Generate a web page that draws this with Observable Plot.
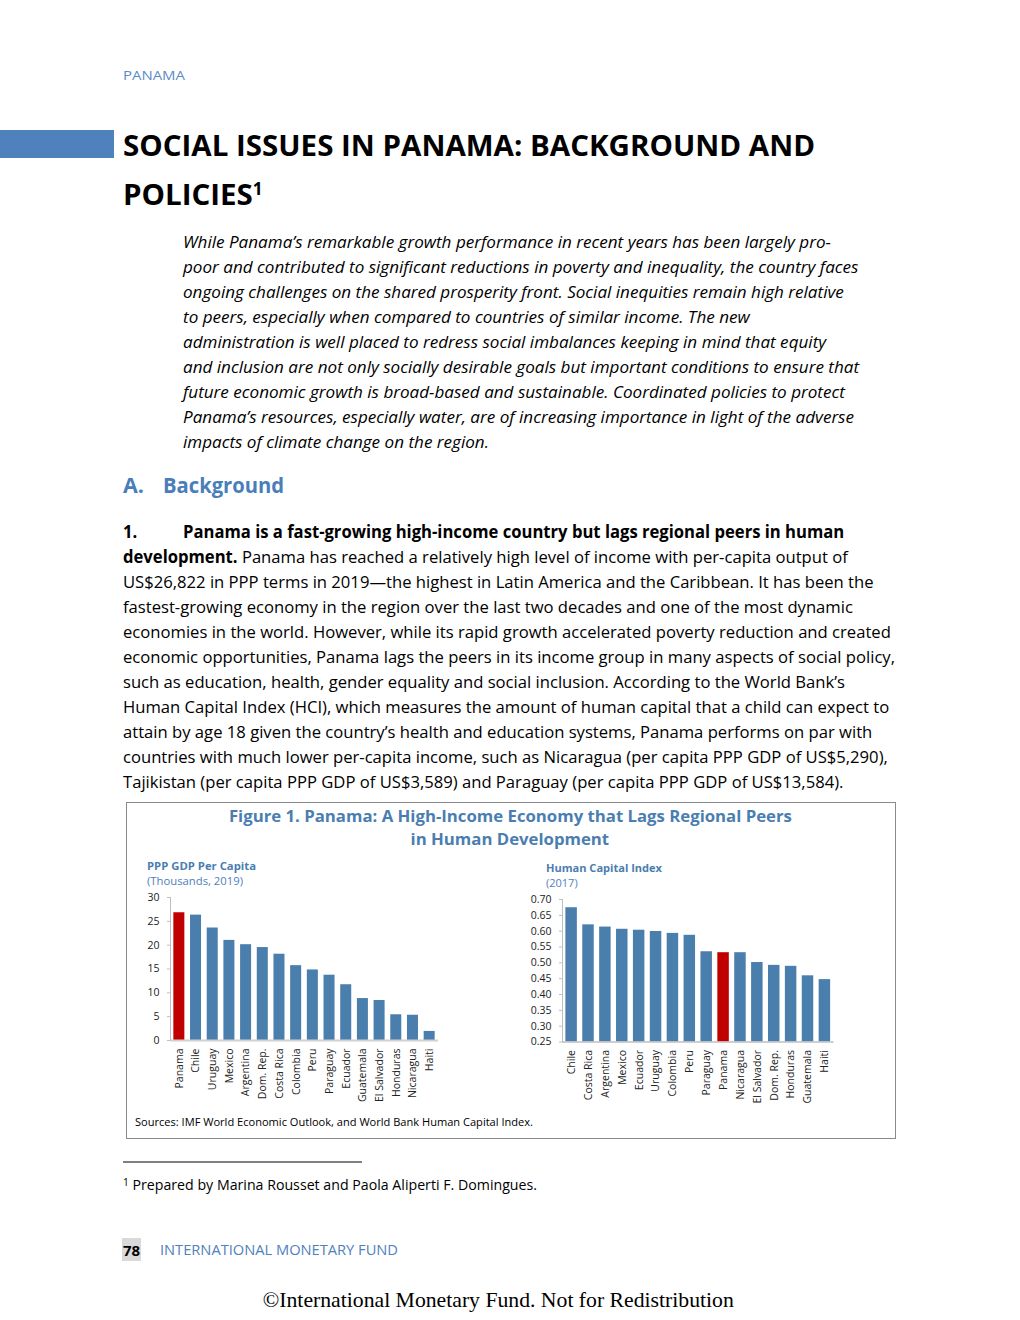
<!DOCTYPE html>
<html><head><meta charset="utf-8">
<script src="https://cdn.jsdelivr.net/npm/d3@7"></script>
<script src="https://cdn.jsdelivr.net/npm/@observablehq/plot@0.6"></script>
<style>
body{margin:0;width:1020px;height:1320px;position:relative;background:#fff;font-family:"Open Sans","Noto Sans",sans-serif;color:#000;overflow:hidden}
.a{position:absolute;white-space:nowrap}
.body{font-size:17px;line-height:25px}
.it{font-style:italic}
.blue{color:#4f81bd}
</style></head><body>
<div class="a blue" id="hdr" style="left:123px;top:66px;font-size:13px;line-height:18px;color:#5b8cc4">PANAMA</div>
<div class="a" style="left:0;top:130px;width:114px;height:28px;background:#4f81bd"></div>
<div class="a" id="t1" style="left:123px;top:125px;font-size:29px;line-height:40px;font-weight:700">SOCIAL ISSUES IN PANAMA: BACKGROUND AND</div>
<div class="a" id="t2" style="left:123px;top:169px;font-size:29px;line-height:40px;font-weight:700">POLICIES<span style="font-size:17px;vertical-align:10px">1</span></div>

<div id="abs"></div>
<div class="a" style="left:123px;top:471px;font-size:21.5px;line-height:28px;font-weight:700;color:#4a7ebb">A.</div>
<div class="a" id="bg" style="left:163px;top:471px;font-size:21.5px;line-height:28px;font-weight:700;color:#4a7ebb">Background</div>
<div id="para"></div>

<div class="a" style="left:126px;top:802px;width:768px;height:335px;border:1px solid #8a8a8a"></div>
<div class="a" id="ft1" style="left:510px;top:805px;font-size:16.5px;line-height:22px;font-weight:700;color:#4a7eb0">Figure 1. Panama: A High-Income Economy that Lags Regional Peers</div>
<div class="a" id="ft2" style="left:510px;top:828px;font-size:16.5px;line-height:22px;font-weight:700;color:#4a7eb0">in Human Development</div>
<div class="a" id="s1" style="left:147px;top:858px;font-size:11px;line-height:16px;font-weight:700;color:#4a7eb0">PPP GDP Per Capita</div>
<div class="a" id="s1b" style="left:147px;top:873px;font-size:11px;line-height:16px;color:#4f81bd">(Thousands, 2019)</div>
<div class="a" id="s2" style="left:546px;top:860px;font-size:11px;line-height:16px;font-weight:700;color:#4a7eb0">Human Capital Index</div>
<div class="a" id="s2b" style="left:546px;top:875px;font-size:11px;line-height:16px;color:#4f81bd">(2017)</div>
<div class="a" id="gdp" style="left:130px;top:887px"></div>
<div class="a" id="hci" style="left:520px;top:889px"></div>
<div class="a" id="src" style="left:135px;top:1114px;font-size:11px;line-height:16px">Sources: IMF World Economic Outlook, and World Bank Human Capital Index.</div>

<div class="a" style="left:123px;top:1161px;width:239px;height:1.5px;background:#808080"></div>
<div class="a" id="fn" style="left:123px;top:1172px;font-size:14px;line-height:20px"><span style="font-size:10px;vertical-align:4px">1</span> Prepared by Marina Rousset and Paola Aliperti F. Domingues.</div>
<div class="a" style="left:122px;top:1238px;width:19px;height:23px;background:#d9d9d9"></div>
<div class="a" style="left:123px;top:1240px;font-size:15px;line-height:20px;font-weight:700">78</div>
<div class="a" id="imf" style="left:160px;top:1240px;font-size:14px;line-height:20px;color:#4f81bd">INTERNATIONAL MONETARY FUND</div>
<div class="a" id="copy" style="left:498px;top:1287px;font-family:'Liberation Serif','Times New Roman',serif;font-size:21.5px;line-height:26px">©International Monetary Fund. Not for Redistribution</div>

<script>
// ---------- DATA ----------
const gdpCountries = ["Panama","Chile","Uruguay","Mexico","Argentina","Dom. Rep.","Costa Rica","Colombia","Peru","Paraguay","Ecuador","Guatemala","El Salvador","Honduras","Nicaragua","Haiti"];
const gdpValues = [26.8,26.3,23.6,21.0,20.1,19.5,18.1,15.7,14.8,13.7,11.7,8.8,8.4,5.4,5.3,1.9];
const gdpTicks = [0,5,10,15,20,25,30];
const hciCountries = ["Chile","Costa Rica","Argentina","Mexico","Ecuador","Uruguay","Colombia","Peru","Paraguay","Panama","Nicaragua","El Salvador","Dom. Rep.","Honduras","Guatemala","Haiti"];
const hciValues = [0.674,0.620,0.613,0.606,0.603,0.599,0.593,0.587,0.535,0.532,0.532,0.501,0.492,0.489,0.459,0.447];
const hciTicks = [0.25,0.30,0.35,0.40,0.45,0.50,0.55,0.60,0.65,0.70];
const highlight = "Panama";

const abstractLines = [
"While Panama’s remarkable growth performance in recent years has been largely pro-",
"poor and contributed to significant reductions in poverty and inequality, the country faces",
"ongoing challenges on the shared prosperity front. Social inequities remain high relative",
"to peers, especially when compared to countries of similar income. The new",
"administration is well placed to redress social imbalances keeping in mind that equity",
"and inclusion are not only socially desirable goals but important conditions to ensure that",
"future economic growth is broad-based and sustainable. Coordinated policies to protect",
"Panama’s resources, especially water, are of increasing importance in light of the adverse",
"impacts of climate change on the region."];
const paraLines = [
"<b>Panama is a fast-growing high-income country but lags regional peers in human</b>",
"<b>development.</b> Panama has reached a relatively high level of income with per-capita output of",
"US$26,822 in PPP terms in 2019—the highest in Latin America and the Caribbean. It has been the",
"fastest-growing economy in the region over the last two decades and one of the most dynamic",
"economies in the world. However, while its rapid growth accelerated poverty reduction and created",
"economic opportunities, Panama lags the peers in its income group in many aspects of social policy,",
"such as education, health, gender equality and social inclusion. According to the World Bank’s",
"Human Capital Index (HCI), which measures the amount of human capital that a child can expect to",
"attain by age 18 given the country’s health and education systems, Panama performs on par with",
"countries with much lower per-capita income, such as Nicaragua (per capita PPP GDP of US$5,290),",
"Tajikistan (per capita PPP GDP of US$3,589) and Paraguay (per capita PPP GDP of US$13,584)."];

// ---------- TEXT LAYOUT ----------
const absEl = document.getElementById("abs");
abstractLines.forEach((t,i)=>{const d=document.createElement("div");d.className="a body it absl";d.style.left="183px";d.style.top=(228.5+25*i)+"px";d.textContent=t;absEl.appendChild(d);});
const paraEl = document.getElementById("para");
{const d=document.createElement("div");d.className="a body parl0";d.style.left="123px";d.style.top="518.5px";d.innerHTML="<b>1.</b>";paraEl.appendChild(d);}
paraLines.forEach((t,i)=>{const d=document.createElement("div");d.className="a body parl";d.style.left=(i===0?183:123)+"px";d.style.top=(518.5+25*i)+"px";d.innerHTML=t;paraEl.appendChild(d);});

function scaleGroup(els, ref, target){const w=ref.getBoundingClientRect().width;const s=target/w;els.forEach(e=>{e.style.transformOrigin="left center";e.style.transform=`scaleX(${s})`;});}
function fit(id,target,center){const e=document.getElementById(id);const w=e.getBoundingClientRect().width;const s=target/w;if(center){e.style.left=(parseFloat(e.style.left)-w/2)+"px";e.style.transformOrigin="center center";}else e.style.transformOrigin="left center";e.style.transform=`scaleX(${s})`;}
const absls=[...document.querySelectorAll(".absl")];
scaleGroup(absls, absls[7], 671);
const parls=[...document.querySelectorAll(".parl")];
scaleGroup(parls.concat([...document.querySelectorAll(".parl0")]), parls[5], 772);
fit("t1",692);fit("bg",121);fit("hdr",62);
{const t2=document.getElementById("t2");const t1=document.getElementById("t1");t2.style.transformOrigin="left center";t2.style.transform=t1.style.transform;}
fit("ft1",563,true);
{const a=document.getElementById("ft2");const b=document.getElementById("ft1");const w=a.getBoundingClientRect().width;a.style.left=(510-w/2)+"px";a.style.transformOrigin="center center";a.style.transform=b.style.transform;}
fit("s1",109);fit("s1b",96);fit("s2",116);fit("src",398);fit("fn",414);fit("imf",238);fit("copy",471,true);

// ---------- CHARTS ----------
const font = "'Open Sans','Noto Sans',sans-serif";
const blue = "#4a7fad", red = "#c00000";
const gdpData = gdpCountries.map((c,i)=>({country:c,value:gdpValues[i]}));
const hciData = hciCountries.map((c,i)=>({country:c,value:hciValues[i]}));

const gdpChart = Plot.plot({
  width:320, height:218, marginLeft:40, marginRight:12, marginTop:10, marginBottom:65,
  style:{fontFamily:font, fontSize:"10.5px", color:"#222", background:"transparent", overflow:"visible"},
  x:{domain:gdpCountries, paddingInner:0.34, paddingOuter:0.2, round:false, label:null},
  y:{domain:[0,30], label:null},
  marks:[
    Plot.barY(gdpData,{x:"country", y:"value", fill:d=>d.country===highlight?red:blue}),
    Plot.frame({anchor:"left", stroke:"#bfbfbf"}),
    Plot.ruleY([0],{stroke:"#d0d0d0", strokeWidth:2}),
    Plot.axisY({ticks:gdpTicks, tickSize:3, tickPadding:8, stroke:"#bfbfbf", fill:"#222", label:null}),
    Plot.axisX({tickRotate:-90, tickSize:0, tickPadding:8, fill:"#222", label:null})
  ]
});
document.getElementById("gdp").appendChild(gdpChart);

const hciChart = Plot.plot({
  width:325, height:215, marginLeft:42, marginRight:11.5, marginTop:10, marginBottom:62.5,
  style:{fontFamily:font, fontSize:"10.5px", color:"#222", background:"transparent", overflow:"visible"},
  x:{domain:hciCountries, paddingInner:0.32, paddingOuter:0.2, round:false, label:null},
  y:{domain:[0.25,0.70], label:null},
  marks:[
    Plot.barY(hciData,{x:"country", y1:0.25, y2:"value", fill:d=>d.country===highlight?red:blue}),
    Plot.frame({anchor:"left", stroke:"#bfbfbf"}),
    Plot.ruleY([0.25],{stroke:"#bfbfbf", strokeWidth:1.5}),
    Plot.axisY({ticks:hciTicks, tickFormat:d3.format(".2f"), tickSize:3, tickPadding:8, stroke:"#bfbfbf", fill:"#222", label:null}),
    Plot.axisX({tickRotate:-90, tickSize:0, tickPadding:8, fill:"#222", label:null})
  ]
});
document.getElementById("hci").appendChild(hciChart);
</script>
</body></html>
